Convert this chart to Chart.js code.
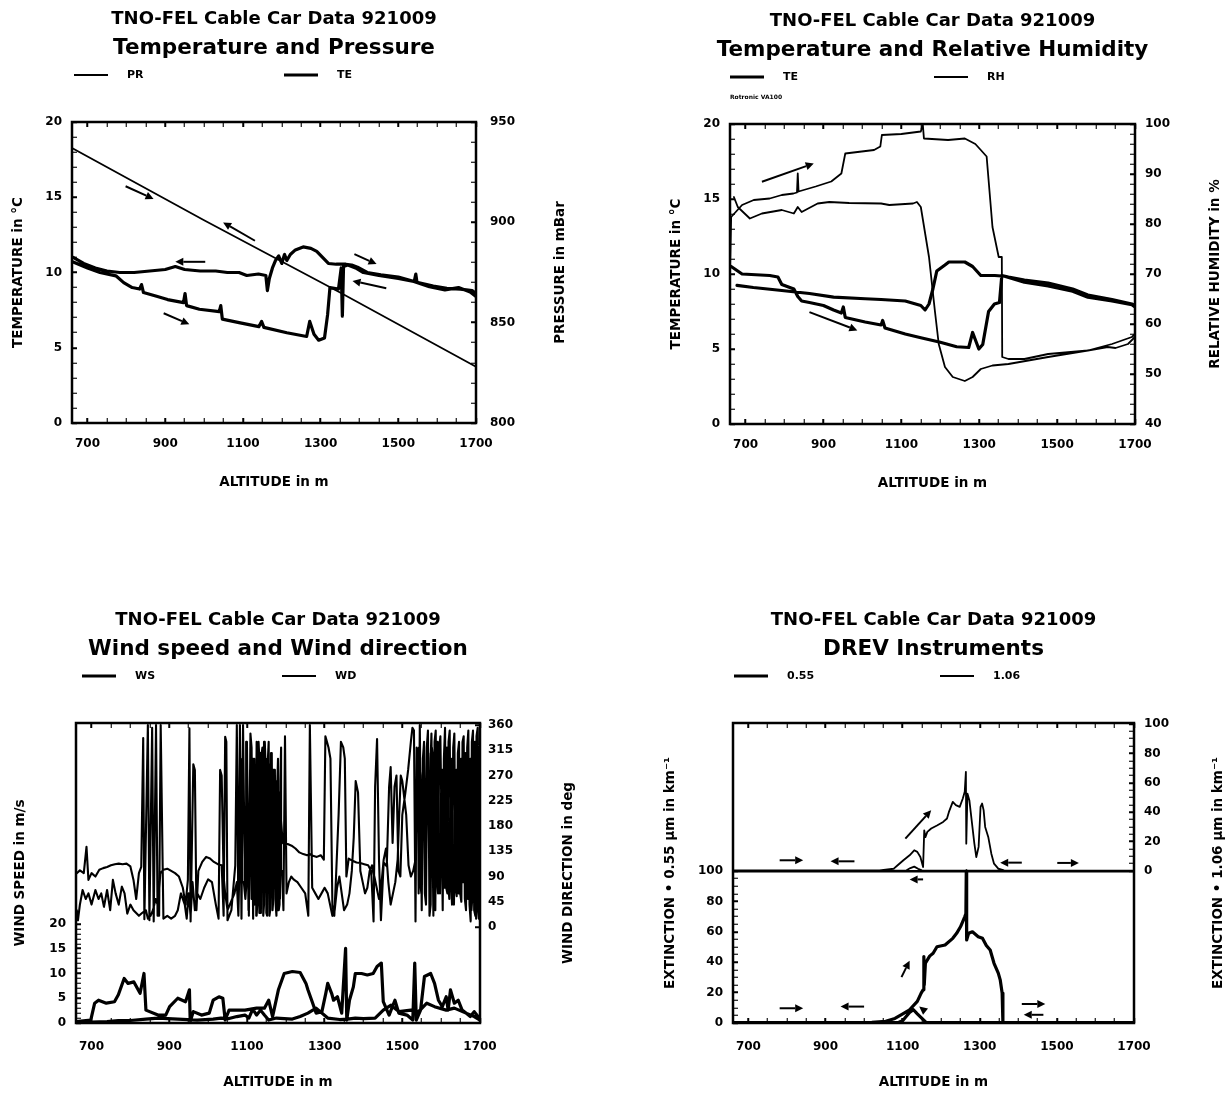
<!DOCTYPE html>
<html>
<head>
<meta charset="utf-8">
<script src="https://cdn.jsdelivr.net/npm/chart.js@4.4.1/dist/chart.umd.min.js"></script>
<style>
html, body { margin:0; padding:0; background:#fff; }
#page { position:relative; width:1230px; height:1095px; overflow:hidden; background:#fff; }
#page canvas { position:absolute; }
</style>
</head>
<body>
<div id="page">
  <canvas id="c1" width="615" height="547" style="left:0px;top:0px;"></canvas>
  <canvas id="c2" width="615" height="547" style="left:615px;top:0px;"></canvas>
  <canvas id="c3" width="615" height="548" style="left:0px;top:547px;"></canvas>
  <canvas id="c4" width="615" height="548" style="left:615px;top:547px;"></canvas>
</div>
<script>
const FONT = "'DejaVu Sans', 'Liberation Sans', Arial, sans-serif";
Chart.defaults.font.family = FONT;
Chart.defaults.font.weight = 'bold';
Chart.defaults.color = '#000';

/* ---------- shared axis values ---------- */
const headerLine = 'TNO-FEL Cable Car Data 921009';
const altitudeRange = [660, 1700];
const altitudeLabels = [700, 900, 1100, 1300, 1500, 1700];
const altitudeMinorStep = 50;

/* ---------- panel 1 : Temperature and Pressure ---------- */
const tempLabels = [0, 5, 10, 15, 20];
const pressureLabels = [800, 850, 900, 950];
const prTrip = [[660, 937], [1000, 901], [1350, 865], [1700, 828]];
const te1UpTrip = [[663,10.7],[700,10.3],[732,10.0],[773,9.78],[793,9.33],[815,9.0],[834,8.9],[839,9.2],[844,8.67],[880,8.4],[906,8.2],[947,8.0],[951,8.6],[955,7.8],[988,7.56],[1039,7.4],[1043,7.8],[1047,6.9],[1090,6.67],[1141,6.4],[1148,6.75],[1154,6.35],[1213,6.0],[1264,5.75],[1272,6.75],[1283,5.9],[1295,5.5],[1310,5.65],[1318,7.2],[1324,9.0],[1346,8.9],[1353,10.3],[1356,7.1],[1359,10.4],[1370,10.5],[1390,10.3],[1410,10.0],[1450,9.8],[1500,9.6],[1540,9.4],[1580,9.05],[1620,8.85],[1655,9.0],[1685,8.7],[1700,8.4]];
const te1DownTrip = [[1700,8.6],[1690,8.8],[1660,8.9],[1625,8.95],[1590,9.1],[1548,9.35],[1545,9.9],[1541,9.4],[1500,9.7],[1455,9.85],[1420,10.0],[1395,10.35],[1380,10.5],[1365,10.55],[1340,10.55],[1320,10.6],[1305,11.0],[1290,11.4],[1275,11.6],[1255,11.7],[1235,11.5],[1222,11.2],[1213,10.8],[1207,11.2],[1200,10.6],[1192,11.1],[1184,10.8],[1176,10.3],[1168,9.6],[1163,8.8],[1159,9.8],[1140,9.9],[1110,9.8],[1090,10.0],[1060,10.0],[1030,10.1],[990,10.1],[950,10.2],[926,10.4],[900,10.2],[860,10.1],[820,10.0],[783,10.0],[750,10.1],[720,10.3],[690,10.6],[663,11.0]];
const p1Arrows = [[798,15.73,870,14.89],[1131,12.11,1049,13.33],[1003,10.71,926,10.71],[896,7.29,962,6.56],[1387,11.22,1444,10.56],[1469,8.96,1382,9.44]];

/* ---------- panel 2 : Temperature and Relative Humidity ---------- */
const rhLabels = [40, 50, 60, 70, 80, 90, 100];
const te2UpTrip = [[663,10.5],[691,10.0],[762,9.9],[783,9.8],[793,9.3],[824,9.0],[834,8.5],[844,8.2],[864,8.1],[900,7.9],[926,7.6],[946,7.4],[951,7.8],[956,7.1],[1007,6.8],[1048,6.6],[1052,6.9],[1058,6.4],[1110,6.0],[1150,5.75],[1200,5.45],[1242,5.15],[1273,5.1],[1283,6.1],[1299,5.0],[1309,5.3],[1324,7.5],[1339,8.0],[1352,8.1],[1358,9.9],[1375,9.8],[1416,9.6],[1477,9.4],[1540,9.0],[1579,8.6],[1641,8.3],[1692,8.0],[1700,7.9]];
const te2DownTrip = [[1700,7.8],[1692,7.95],[1641,8.2],[1579,8.45],[1540,8.85],[1477,9.2],[1416,9.45],[1365,9.85],[1340,9.9],[1304,9.9],[1283,10.5],[1263,10.8],[1222,10.8],[1212,10.6],[1191,10.2],[1181,9.0],[1171,8.0],[1161,7.6],[1150,7.9],[1110,8.2],[1048,8.3],[1007,8.35],[926,8.46],[864,8.7],[793,8.9],[720,9.1],[678,9.24]];
const rhUpTrip = [[660,71],[663,81.4],[691,83.8],[721,84.8],[762,85.1],[793,85.8],[823,86.1],[832,86.3],[834,90.1],[836,86.5],[880,87.5],[920,88.5],[946,90.1],[956,94.1],[1030,94.8],[1046,95.5],[1050,97.8],[1100,98.0],[1150,98.5],[1155,100],[1158,97.1],[1220,96.8],[1263,97.1],[1290,96.0],[1304,94.8],[1319,93.5],[1334,79.4],[1350,73.4],[1358,73.4],[1359,53.4],[1375,53.0],[1416,53.0],[1477,54.0],[1579,54.7],[1641,56.0],[1692,57.4],[1700,58]];
const rhDownTrip = [[1700,57.4],[1682,56],[1650,55.2],[1630,55.4],[1579,54.7],[1477,53.4],[1375,52.0],[1334,51.7],[1304,51.0],[1283,49.4],[1263,48.6],[1232,49.4],[1212,51.4],[1196,56],[1186,62.7],[1171,73.4],[1150,83.4],[1140,84.4],[1130,84.1],[1069,83.8],[1048,84.1],[966,84.2],[915,84.4],[885,84.1],[844,82.4],[834,83.4],[824,82.1],[793,82.8],[742,82.1],[711,81.1],[680,83.4],[670,85.4]];
const p2Arrows = [[742,16.15,875,17.37],[864,7.46,987,6.24]];

/* ---------- panel 3 : Wind speed and Wind direction ---------- */
const wsLabels = [0, 5, 10, 15, 20];
const wdLabels = [0, 45, 90, 135, 180, 225, 270, 315, 360];
const wsUpTrip = [[660,0.27],[698,0.6],[708,4.0],[718,4.6],[738,4.0],[759,4.3],[769,5.7],[784,9.0],[794,8.0],[809,8.3],[820,6.7],[825,6.0],[835,10.0],[840,2.6],[871,1.6],[891,1.6],[901,3.3],[922,5.0],[942,4.3],[952,6.7],[954,0.3],[962,2.3],[983,1.6],[1003,2.0],[1013,4.6],[1028,5.3],[1038,5.0],[1044,0.6],[1054,2.6],[1095,2.6],[1125,3.0],[1145,3.0],[1156,4.6],[1166,1.3],[1181,6.7],[1196,10.0],[1217,10.4],[1237,10.2],[1252,8.0],[1257,6.7],[1268,4.3],[1278,2.0],[1293,2.3],[1303,6.0],[1308,8.0],[1318,6.0],[1323,4.6],[1333,5.3],[1344,2.0],[1354,15.1],[1357,0.6],[1364,4.6],[1374,7.3],[1379,10.0],[1395,10.0],[1410,9.7],[1425,10.0],[1435,11.4],[1446,12.1],[1451,4.3],[1466,1.6],[1481,4.6],[1491,2.0],[1512,1.6],[1527,0.6],[1532,12.1],[1536,0.6],[1547,2.6],[1557,9.4],[1573,10.0],[1583,8.0],[1593,4.6],[1603,3.3],[1613,5.3],[1618,2.6],[1624,6.7],[1634,4.0],[1644,4.6],[1654,2.6],[1664,2.0],[1675,1.3],[1685,2.3],[1695,1.3],[1700,0.8]];
const wsDownTrip = [[1700,0.6],[1685,1.3],[1664,2.0],[1634,3.0],[1613,2.6],[1583,3.3],[1563,4.0],[1542,2.3],[1522,2.6],[1491,2.3],[1471,3.6],[1451,2.6],[1430,1.0],[1400,0.9],[1379,1.0],[1359,0.8],[1339,0.7],[1308,1.0],[1278,3.0],[1257,2.0],[1237,1.3],[1217,0.8],[1196,0.9],[1176,1.0],[1156,0.6],[1145,1.6],[1135,2.6],[1125,1.6],[1115,2.8],[1105,1.0],[1095,1.6],[1074,1.3],[1054,0.9],[1033,1.0],[1013,0.8],[972,0.6],[922,0.8],[871,1.0],[840,0.8],[800,0.5],[769,0.5],[740,0.3],[700,0.2],[660,0.1]];
const wdUpTrip = [[662,96],[670,101],[680,96],[687,143],[692,84],[700,96],[710,90],[720,102],[730,105],[740,107],[750,110],[760,112],[770,113],[780,112],[790,113],[800,108],[808,84],[815,50],[822,96],[828,107],[833,337],[836,14],[845,360],[849,12],[856,355],[860,10],[866,360],[870,20],[877,96],[885,102],[895,104],[905,100],[915,96],[925,90],[935,70],[942,40],[948,84],[952,354],[955,10],[962,290],[966,280],[970,30],[975,100],[985,116],[995,125],[1005,122],[1015,116],[1025,112],[1035,110],[1040,20],[1044,339],[1047,330],[1050,12],[1060,30],[1070,110],[1074,360],[1078,20],[1082,360],[1086,15],[1090,360],[1095,60],[1100,330],[1105,20],[1109,345],[1112,320],[1116,15],[1119,300],[1122,50],[1125,330],[1128,290],[1132,25],[1135,310],[1138,300],[1142,80],[1144,320],[1146,250],[1150,40],[1153,300],[1155,280],[1158,60],[1160,290],[1162,270],[1166,40],[1168,280],[1170,240],[1174,55],[1176,260],[1178,230],[1183,50],[1185,240],[1187,200],[1192,150],[1198,146],[1205,148],[1215,145],[1225,140],[1235,133],[1245,130],[1255,128],[1262,130],[1270,127],[1280,125],[1290,128],[1298,120],[1302,340],[1306,330],[1310,320],[1315,300],[1320,40],[1325,20],[1330,100],[1336,200],[1342,330],[1348,320],[1352,300],[1356,90],[1362,122],[1372,118],[1382,115],[1392,114],[1402,112],[1412,110],[1420,100],[1426,10],[1430,250],[1435,335],[1440,120],[1445,12],[1452,115],[1460,108],[1466,250],[1470,285],[1475,150],[1480,250],[1485,270],[1490,100],[1495,90],[1500,200],[1508,240],[1515,280],[1522,330],[1526,355],[1530,350],[1534,10],[1537,320],[1540,300],[1542,60],[1545,360],[1550,30],[1553,300],[1556,330],[1560,50],[1563,320],[1566,350],[1570,40],[1573,300],[1575,345],[1580,20],[1583,330],[1586,350],[1590,80],[1592,60],[1595,320],[1598,340],[1604,30],[1607,300],[1610,355],[1613,70],[1616,60],[1619,330],[1622,350],[1625,90],[1628,40],[1631,320],[1634,345],[1637,70],[1640,55],[1643,310],[1646,330],[1649,60],[1652,45],[1655,330],[1658,340],[1661,50],[1664,30],[1667,320],[1670,350],[1673,40],[1676,10],[1679,330],[1682,350],[1685,30],[1688,20],[1691,340],[1694,355],[1697,15],[1700,360]];
const wdDownTrip = [[1700,10],[1698,320],[1696,300],[1693,40],[1690,15],[1687,330],[1684,280],[1681,60],[1678,30],[1675,300],[1672,270],[1669,50],[1666,60],[1663,310],[1660,280],[1657,80],[1654,120],[1651,300],[1648,260],[1645,60],[1642,90],[1639,280],[1636,240],[1633,40],[1630,60],[1627,300],[1624,270],[1621,50],[1618,80],[1615,320],[1612,290],[1609,70],[1606,100],[1603,280],[1600,250],[1597,60],[1594,90],[1591,330],[1588,300],[1585,30],[1582,40],[1579,300],[1576,320],[1573,40],[1570,20],[1567,310],[1564,290],[1561,40],[1558,60],[1555,300],[1552,270],[1549,60],[1546,80],[1543,320],[1540,300],[1534,120],[1528,100],[1522,90],[1516,110],[1510,200],[1505,230],[1500,260],[1496,270],[1492,200],[1488,120],[1482,80],[1476,60],[1470,40],[1464,80],[1458,140],[1452,120],[1448,90],[1444,60],[1440,50],[1434,70],[1428,90],[1422,110],[1416,100],[1410,70],[1404,60],[1398,80],[1392,100],[1386,240],[1380,260],[1375,160],[1370,100],[1364,60],[1358,40],[1350,30],[1344,60],[1338,90],[1332,70],[1326,30],[1320,20],[1314,40],[1308,60],[1300,70],[1292,60],[1284,50],[1276,60],[1268,70],[1262,360],[1258,20],[1250,60],[1240,70],[1230,80],[1220,85],[1214,90],[1208,80],[1202,60],[1198,340],[1194,30],[1190,100],[1188,320],[1186,260],[1184,40],[1182,30],[1180,300],[1178,250],[1176,20],[1174,40],[1172,280],[1170,200],[1168,50],[1166,30],[1164,310],[1162,150],[1160,30],[1158,20],[1156,330],[1154,300],[1152,20],[1150,25],[1148,290],[1146,330],[1144,40],[1142,20],[1140,320],[1138,310],[1136,25],[1134,50],[1132,300],[1130,330],[1128,60],[1125,20],[1124,260],[1120,40],[1116,300],[1112,50],[1108,280],[1105,60],[1104,30],[1100,330],[1098,70],[1096,50],[1092,80],[1088,80],[1084,300],[1080,85],[1078,20],[1074,80],[1068,60],[1062,50],[1056,40],[1050,30],[1044,60],[1040,90],[1035,270],[1031,280],[1027,15],[1020,40],[1010,80],[1000,85],[990,70],[980,50],[972,60],[966,30],[960,80],[955,20],[950,60],[945,15],[940,40],[930,60],[922,30],[915,20],[905,15],[895,20],[885,15],[878,360],[874,20],[870,40],[865,50],[858,30],[852,20],[845,15],[840,30],[830,25],[822,20],[815,25],[808,30],[800,40],[792,24],[785,60],[778,72],[770,40],[762,60],[755,84],[748,30],[740,66],[732,36],[725,60],[718,50],[710,66],[700,40],[692,60],[685,50],[677,66],[670,40],[665,12],[662,30]];

/* ---------- panel 4 : DREV Instruments ---------- */
const extLabels = [0, 20, 40, 60, 80, 100];
const ext055UpTrip = [[660,0.3],[900,0.3],[1020,0.5],[1056,1.1],[1080,3],[1097,5.5],[1118,8.7],[1138,14.2],[1148,19.7],[1153,21.8],[1155,43.7],[1156,25],[1159,39.3],[1170,44],[1179,45.9],[1189,50.2],[1210,51.3],[1230,55.7],[1240,59],[1250,63.3],[1261,69.9],[1264,72],[1265,100],[1266,54.6],[1271,59],[1281,60],[1296,56.8],[1307,55.7],[1317,51],[1327,48],[1337,39.3],[1348,32.8],[1353,28.4],[1358,19.7],[1360,0.4],[1500,0.3],[1700,0.3]];
const ext055DownTrip = [[1700,0.3],[1400,0.3],[1160,0.5],[1150,3],[1138,6],[1128,8.7],[1118,7],[1108,4],[1100,1.5],[1090,0.5],[660,0.3]];
const ext106UpTrip = [[660,0.4],[1040,0.5],[1077,1.6],[1087,3.9],[1102,7.3],[1118,10.7],[1130,14.1],[1138,13],[1146,9.5],[1153,2.7],[1156,27.7],[1159,23],[1164,26.6],[1174,28.9],[1189,31],[1205,33.4],[1215,35.7],[1220,40.2],[1230,47],[1238,44.8],[1248,43.6],[1256,49.3],[1261,53.9],[1264,67.5],[1265,18.6],[1268,52.7],[1273,48.2],[1279,34.5],[1286,18.6],[1291,9.5],[1297,16.4],[1302,43.6],[1306,45.9],[1310,41.4],[1314,30],[1322,23.2],[1330,11.8],[1337,5],[1348,1.6],[1363,0.5],[1700,0.2]];
const ext106DownTrip = [[1700,0.2],[1200,0.3],[1150,0.5],[1140,1.5],[1130,3],[1120,2],[1110,0.5],[660,0.3]];
const p4ArrowsLower = [[781,9.7,842,9.7],[1000,10.8,939,10.8],[1097,30.2,1118,41],[1159,7.6,1143,10.8],[1409,12.5,1470,12.5],[1465,5.4,1414,5.4]];
const p4ArrowsUpper = [[781,7.3,842,7.3],[975,6.6,913,6.6],[1107,22,1174,41.4],[1153,-5.7,1118,-5.7],[1409,5.7,1353,5.7],[1501,5.5,1557,5.5]];

/* ---------- helpers ---------- */
function pts(list) { return list.map(p => ({ x: p[0], y: p[1] })); }
function steps(from, to, step) { const out = []; for (let v = from; v <= to + 1e-9; v += step) out.push(+v.toFixed(4)); return out; }

function scaleCfg(o) {
  const majors = new Set(o.labels);
  const all = Array.from(new Set([...(o.minor || []), ...o.labels])).sort((a, b) => a - b);
  const horizontal = o.position === 'top' || o.position === 'bottom';
  return {
    type: 'linear',
    position: o.position,
    min: o.min, max: o.max,
    afterBuildTicks: sc => { sc.ticks = all.map(v => ({ value: v })); },
    afterFit: sc => { if (horizontal) sc.height = o.size; else sc.width = o.size; },
    border: { display: false },
    grid: {
      display: true,
      drawOnChartArea: o.midline !== undefined,
      drawTicks: true,
      tickLength: -5,
      tickColor: '#000',
      tickWidth: c => (c.tick && majors.has(c.tick.value)) ? 2 : 1.1,
      color: c => (o.midline !== undefined && c.tick && c.tick.value === o.midline) ? '#000' : 'rgba(0,0,0,0)',
      lineWidth: 2.5
    },
    ticks: {
      display: o.showLabels !== false,
      autoSkip: false, maxRotation: 0, minRotation: 0,
      padding: o.labelPad === undefined ? 15 : o.labelPad,
      color: '#000',
      font: { family: FONT, size: 12, weight: 'bold' },
      callback: v => majors.has(v) ? String(v) : ''
    },
    title: o.title ? { display: true, text: o.title, color: '#000', font: { family: FONT, size: 13.5, weight: 'bold' }, padding: o.titlePad } : { display: false }
  };
}

const framePlugin = {
  id: 'frame',
  afterDatasetsDraw(chart) {
    const { ctx, chartArea: a } = chart;
    ctx.save(); ctx.lineWidth = 2.5; ctx.strokeStyle = '#000';
    ctx.strokeRect(a.left, a.top, a.right - a.left, a.bottom - a.top);
    ctx.restore();
  }
};

function headerPlugin(h) {
  return {
    id: 'header',
    afterDraw(chart) {
      const { ctx, chartArea: a } = chart;
      const cx = (a.left + a.right) / 2;
      ctx.save();
      ctx.fillStyle = '#000'; ctx.strokeStyle = '#000';
      ctx.textBaseline = 'middle'; ctx.textAlign = 'center';
      ctx.font = `bold 18px ${FONT}`;
      ctx.fillText(h.titles[0], cx, a.top - 103);
      ctx.font = `bold 21.5px ${FONT}`;
      ctx.fillText(h.titles[1], cx, a.top - 74);
      ctx.textAlign = 'left';
      ctx.font = `bold 11px ${FONT}`;
      const ly = a.top - 47;
      h.legendX.forEach((x0, i) => {
        const ds = chart.data.datasets[i];
        ctx.lineWidth = ds.borderWidth;
        ctx.beginPath(); ctx.moveTo(a.left + x0, ly); ctx.lineTo(a.left + x0 + 34, ly); ctx.stroke();
        ctx.fillText(ds.label, a.left + x0 + 53, ly);
      });
      if (h.note) { ctx.font = `bold 6px ${FONT}`; ctx.fillText(h.note, a.left, a.top - 27); }
      ctx.translate(a.right + h.rightTitleGap, (a.top + a.bottom) / 2);
      ctx.rotate(-Math.PI / 2);
      ctx.textAlign = 'center';
      ctx.font = `bold 13.5px ${FONT}`;
      ctx.fillText(h.rightTitle, 0, 0);
      ctx.restore();
    }
  };
}

function arrowPlugin(groups) {
  return {
    id: 'arrows',
    afterDatasetsDraw(chart) {
      const ctx = chart.ctx, xs = chart.scales.x;
      ctx.save(); ctx.strokeStyle = '#000'; ctx.fillStyle = '#000'; ctx.lineWidth = 2;
      groups.forEach(g => {
        const ys = chart.scales[g.axis];
        g.list.forEach(a => {
          const x1 = xs.getPixelForValue(a[0]), y1 = ys.getPixelForValue(a[1]);
          const x2 = xs.getPixelForValue(a[2]), y2 = ys.getPixelForValue(a[3]);
          const ang = Math.atan2(y2 - y1, x2 - x1), L = 8, W = 4;
          const bx = x2 - L * Math.cos(ang), by = y2 - L * Math.sin(ang);
          ctx.beginPath(); ctx.moveTo(x1, y1); ctx.lineTo(bx, by); ctx.stroke();
          ctx.beginPath(); ctx.moveTo(x2, y2);
          ctx.lineTo(bx + W * Math.sin(ang), by - W * Math.cos(ang));
          ctx.lineTo(bx - W * Math.sin(ang), by + W * Math.cos(ang));
          ctx.closePath(); ctx.fill();
        });
      });
      ctx.restore();
    }
  };
}

function buildPanel(p) {
  const altMinor = steps(altitudeLabels[0], altitudeRange[1], altitudeMinorStep);
  const scales = {
    x: scaleCfg({ position: 'bottom', min: altitudeRange[0], max: altitudeRange[1], labels: altitudeLabels, minor: altMinor,
                  size: p.H - p.area.bottom, labelPad: p.xLabelPad, title: 'ALTITUDE in m', titlePad: { top: 0, bottom: p.xTitlePad } }),
    xTop: scaleCfg({ position: 'top', min: altitudeRange[0], max: altitudeRange[1], labels: altitudeLabels, minor: altMinor, size: 0, showLabels: false }),
    yL: scaleCfg(Object.assign({}, p.yL, { position: 'left', size: p.area.left, titlePad: { top: p.yTitlePad, bottom: 0 } })),
    yR: scaleCfg(Object.assign({}, p.yR, { position: 'right', size: p.W - p.area.right }))
  };
  return new Chart(document.getElementById(p.id), {
    type: 'line',
    data: { datasets: p.datasets },
    options: {
      responsive: false, animation: false, devicePixelRatio: 1, events: [],
      layout: { padding: { top: p.area.top, left: 0, right: 0, bottom: 0 } },
      plugins: { legend: { display: false }, tooltip: { enabled: false }, title: { display: false } },
      elements: { point: { radius: 0, hoverRadius: 0 }, line: { tension: 0, borderJoinStyle: 'round', borderCapStyle: 'round' } },
      scales
    },
    plugins: [framePlugin, headerPlugin(p.header), arrowPlugin(p.arrows)]
  });
}

function ds(label, data, axis, width) {
  return { label, data, xAxisID: 'x', yAxisID: axis, borderColor: '#000', backgroundColor: '#000', borderWidth: width, fill: false };
}

/* ---------- panel 1 ---------- */
buildPanel({
  id: 'c1', W: 615, H: 547,
  area: { left: 72, right: 476, top: 122, bottom: 423 },
  xLabelPad: 18.5, xTitlePad: 56, yTitlePad: 10,
  yL: { min: 0, max: 20, labels: tempLabels, minor: steps(0, 20, 1), title: 'TEMPERATURE in °C' },
  yR: { min: 800, max: 950, labels: pressureLabels, minor: steps(800, 950, 10), labelPad: 19 },
  datasets: [
    ds('PR', pts(prTrip), 'yR', 1.8),
    ds('TE', pts(te1UpTrip.concat(te1DownTrip)), 'yL', 3.2)
  ],
  header: { titles: [headerLine, 'Temperature and Pressure'], legendX: [2, 212], rightTitle: 'PRESSURE in mBar', rightTitleGap: 84 },
  arrows: [{ axis: 'yL', list: p1Arrows }]
});

/* ---------- panel 2 ---------- */
buildPanel({
  id: 'c2', W: 615, H: 547,
  area: { left: 115, right: 520, top: 124, bottom: 424 },
  xLabelPad: 18.5, xTitlePad: 55, yTitlePad: 53,
  yL: { min: 0, max: 20, labels: tempLabels, minor: steps(0, 20, 1), title: 'TEMPERATURE in °C' },
  yR: { min: 40, max: 100, labels: rhLabels, minor: steps(40, 100, 2) },
  datasets: [
    ds('TE', pts(te2UpTrip.concat(te2DownTrip)), 'yL', 3.2),
    ds('RH', pts(rhUpTrip.concat(rhDownTrip)), 'yR', 1.8)
  ],
  header: { titles: [headerLine, 'Temperature and Relative Humidity'], legendX: [0, 204], note: 'Rotronic VA100', rightTitle: 'RELATIVE HUMIDITY in %', rightTitleGap: 80 },
  arrows: [{ axis: 'yL', list: p2Arrows }]
});

/* ---------- panel 3 ---------- */
buildPanel({
  id: 'c3', W: 615, H: 548,
  area: { left: 76, right: 480, top: 176, bottom: 476 },
  xLabelPad: 21.8, xTitlePad: 4, yTitlePad: 12,
  yL: { min: 0, max: 60.6, labels: wsLabels, minor: steps(0, 20, 1), title: 'WIND SPEED in m/s' },
  yR: { min: -171, max: 363.6, labels: wdLabels, minor: [], labelPad: 13 },
  datasets: [
    ds('WS', pts(wsUpTrip.concat(wsDownTrip)), 'yL', 3.2),
    ds('WD', pts(wdUpTrip.concat(wdDownTrip)), 'yR', 2.1)
  ],
  header: { titles: [headerLine, 'Wind speed and Wind direction'], legendX: [6, 206], rightTitle: 'WIND DIRECTION in deg', rightTitleGap: 88 },
  arrows: []
});

/* ---------- panel 4 ---------- */
buildPanel({
  id: 'c4', W: 615, H: 548,
  area: { left: 118, right: 519, top: 176, bottom: 476 },
  xLabelPad: 21.8, xTitlePad: 4, yTitlePad: 47,
  yL: { min: 0, max: 197.4, labels: extLabels, minor: steps(0, 100, 5), title: 'EXTINCTION • 0.55 µm in km⁻¹', midline: 100 },
  yR: { min: -103.4, max: 100.7, labels: extLabels, minor: steps(0, 100, 5) },
  datasets: [
    ds('0.55', pts(ext055UpTrip.concat(ext055DownTrip)), 'yL', 3.2),
    ds('1.06', pts(ext106UpTrip.concat(ext106DownTrip)), 'yR', 1.8)
  ],
  header: { titles: [headerLine, 'DREV Instruments'], legendX: [1, 207], rightTitle: 'EXTINCTION • 1.06 µm in km⁻¹', rightTitleGap: 84 },
  arrows: [{ axis: 'yL', list: p4ArrowsLower }, { axis: 'yR', list: p4ArrowsUpper }]
});
</script>
</body>
</html>
